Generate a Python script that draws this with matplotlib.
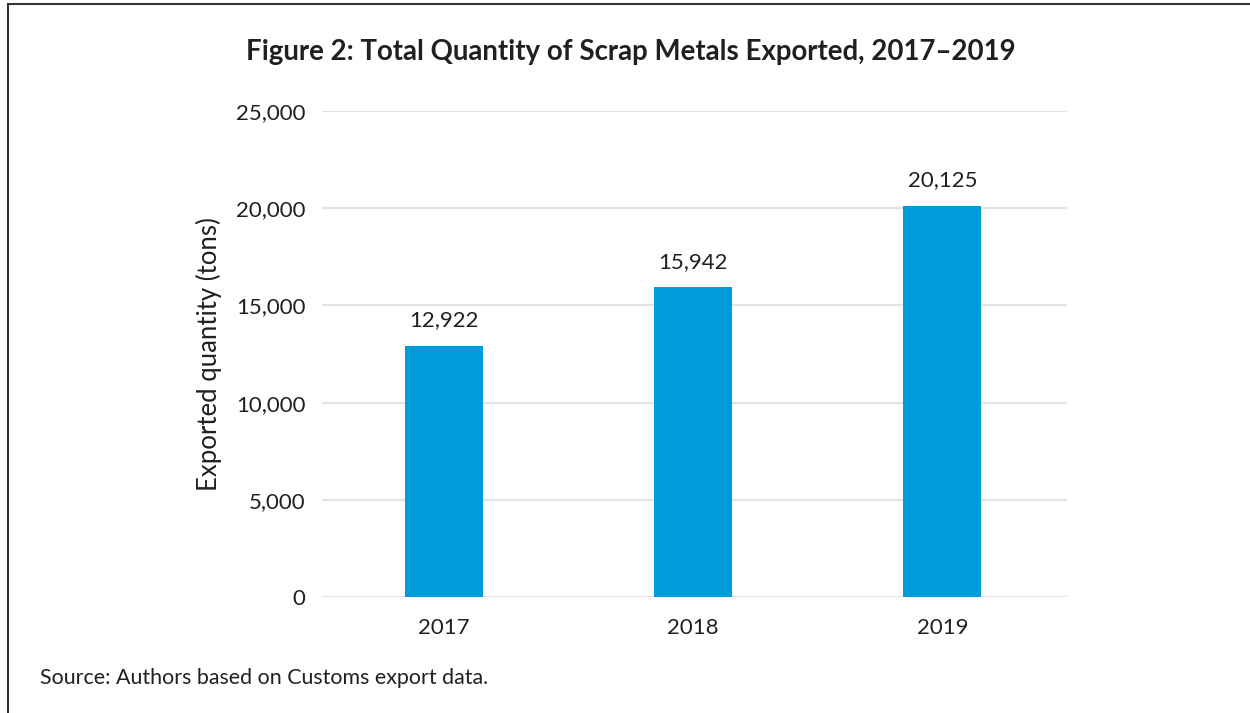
import matplotlib
matplotlib.use("Agg")
import matplotlib.pyplot as plt
from matplotlib.lines import Line2D
from matplotlib.ticker import FuncFormatter

years = ["2017", "2018", "2019"]
quantities = [12922, 15942, 20125]
y_ticks = [0, 5000, 10000, 15000, 20000, 25000]

title = "Figure 2: Total Quantity of Scrap Metals Exported, 2017\u20132019"
y_label = "Exported quantity (tons)"
source = "Source: Authors based on Customs export data."

text_color = "#231f20"
bar_color = "#009bdb"
grid_color = "#e3e3e3"

plt.rcParams["font.family"] = ["Lato", "DejaVu Sans"]

fig = plt.figure(figsize=(12.5, 7.13), dpi=100)
ax = fig.add_axes([0.2576, 0.1627, 0.5960, 0.6816])

x = range(len(years))
ax.bar(x, quantities, width=0.313, color=bar_color, zorder=3)

for xi, v in zip(x, quantities):
    ax.annotate(f"{v:,}", (xi, v), xytext=(0, 11), textcoords="offset points",
                ha="center", va="bottom", fontsize=16, color=text_color)

ax.set_xlim(-0.49, 2.5)
ax.set_ylim(0, 25000)
ax.set_yticks(y_ticks)
ax.yaxis.set_major_formatter(FuncFormatter(lambda v, p: f"{int(v):,}"))
ax.set_xticks(list(x))
ax.set_xticklabels(years)

ax.grid(axis="y", color=grid_color, linewidth=1.6, zorder=0)
for s in ax.spines.values():
    s.set_visible(False)
ax.tick_params(axis="both", length=0, labelsize=16, colors=text_color)
ax.tick_params(axis="y", pad=12)
ax.tick_params(axis="x", pad=15)

ax.set_ylabel(y_label, fontsize=18.5, color=text_color, labelpad=10)

fig.text(0.505, 0.927, title, ha="center", va="center", fontsize=19.9,
         fontweight="bold", color=text_color)
fig.text(0.032, 0.049, source, ha="left", va="center", fontsize=15.4, color=text_color)

# frame around the figure
fig.add_artist(Line2D([0.0064, 1.0], [0.994, 0.994], transform=fig.transFigure,
                      color="#333333", linewidth=1.5))
fig.add_artist(Line2D([0.0064, 0.0064], [0.0, 0.994], transform=fig.transFigure,
                      color="#333333", linewidth=1.5))

fig.savefig("out.png", dpi=100)
